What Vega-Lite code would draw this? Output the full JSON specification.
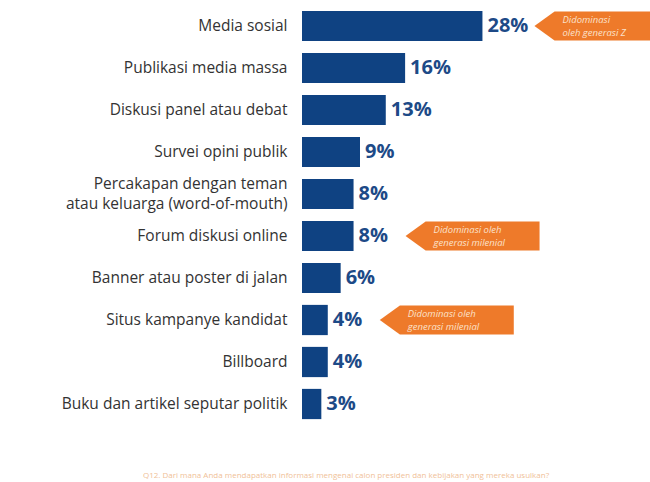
{
  "$schema": "https://vega.github.io/schema/vega-lite/v6.json",
  "width": 348,
  "height": 420,
  "autosize": "none",
  "padding": {"left": 302, "top": 5, "right": 0, "bottom": 57},
  "background": "white",
  "config": {"view": {"stroke": null}, "font": "Open Sans"},
  "title": {
    "text": "Q12. Dari mana Anda mendapatkan informasi mengenai calon presiden dan kebijakan yang mereka usulkan?",
    "orient": "bottom",
    "anchor": "middle",
    "dx": -130,
    "offset": 47,
    "fontSize": 8,
    "fontWeight": "normal",
    "color": "#f0bf98"
  },
  "data": {
    "values": [
      {"cat": "Media sosial", "pct": 0.28, "note": ["Didominasi", "oleh generasi Z"]},
      {"cat": "Publikasi media massa", "pct": 0.16, "note": null},
      {"cat": "Diskusi panel atau debat", "pct": 0.13, "note": null},
      {"cat": "Survei opini publik", "pct": 0.09, "note": null},
      {"cat": "Percakapan dengan teman atau keluarga (word-of-mouth)", "pct": 0.08, "note": null},
      {"cat": "Forum diskusi online", "pct": 0.08, "note": ["Didominasi oleh", "generasi milenial"]},
      {"cat": "Banner atau poster di jalan", "pct": 0.06, "note": null},
      {"cat": "Situs kampanye kandidat", "pct": 0.04, "note": ["Didominasi oleh", "generasi milenial"]},
      {"cat": "Billboard", "pct": 0.04, "note": null},
      {"cat": "Buku dan artikel seputar politik", "pct": 0.03, "note": null}
    ]
  },
  "encoding": {
    "y": {
      "field": "cat",
      "type": "nominal",
      "sort": null,
      "scale": {"paddingInner": 0.28, "paddingOuter": 0.14},
      "axis": {
        "title": null,
        "domain": false,
        "ticks": false,
        "labelPadding": 15,
        "labelFontSize": 15.5,
        "labelColor": "#333333",
        "labelLimit": 300,
        "labelLineHeight": 20,
        "labelOffset": {"condition": {"test": "datum.label == 'Percakapan dengan teman atau keluarga (word-of-mouth)'", "value": -10}, "value": 0},
        "labelExpr": "datum.label == 'Percakapan dengan teman atau keluarga (word-of-mouth)' ? ['Percakapan dengan teman', 'atau keluarga (word-of-mouth)'] : datum.label"
      }
    },
    "x": {
      "field": "pct",
      "type": "quantitative",
      "scale": {"domain": [0, 0.54]},
      "axis": null
    }
  },
  "layer": [
    {"mark": {"type": "bar", "color": "#0f4282"}},
    {
      "mark": {"type": "text", "align": "left", "baseline": "middle", "dx": 5, "fontSize": 20, "fontWeight": "bold", "color": "#1d4a87"},
      "encoding": {"text": {"field": "pct", "type": "quantitative", "format": ".0%"}}
    },
    {
      "transform": [{"filter": "datum.note != null"}],
      "mark": {
        "type": "point",
        "shape": "M-1,0L-0.7,-0.216L1,-0.216L1,0.216L-0.7,0.216Z",
        "filled": true,
        "color": "#ee7a2a",
        "opacity": 1,
        "size": 17956,
        "xOffset": 119
      }
    },
    {
      "transform": [{"filter": "datum.note != null"}],
      "mark": {"type": "text", "align": "left", "baseline": "middle", "dx": 80, "dy": -6, "fontSize": 9.5, "fontStyle": "italic", "color": "#fbe1cb", "lineHeight": 12.5},
      "encoding": {"text": {"field": "note"}}
    }
  ]
}
